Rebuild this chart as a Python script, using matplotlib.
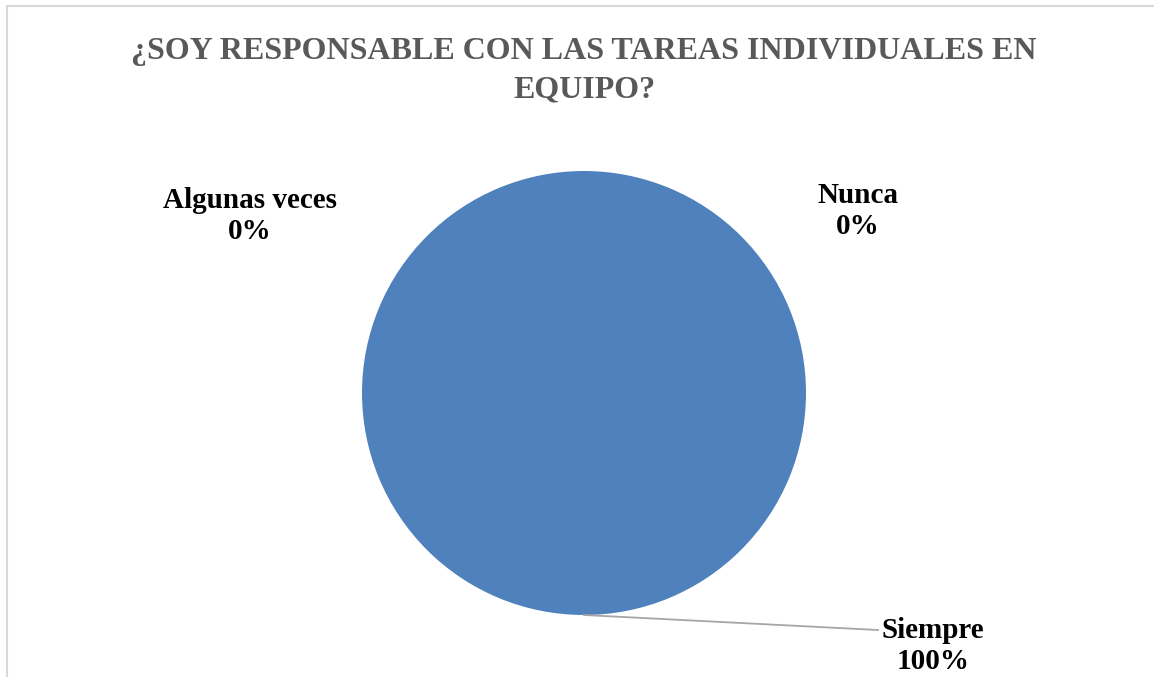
import matplotlib.pyplot as plt
from matplotlib.patches import Rectangle

# survey answers
categories = ["Siempre", "Algunas veces", "Nunca"]
values = [100, 0, 0]
title = "¿SOY RESPONSABLE CON LAS TAREAS INDIVIDUALES EN\nEQUIPO?"

W, H = 1154, 677
fig = plt.figure(figsize=(W / 100, H / 100), dpi=100)
ax = fig.add_axes([0, 0, 1, 1])
ax.set_xlim(0, W)
ax.set_ylim(0, H)
ax.set_aspect("equal")
ax.axis("off")

serif = ["Liberation Serif", "DejaVu Serif"]

# chart frame (cut off on the right and bottom)
ax.add_patch(Rectangle((7, -20), W + 40, H - 6 + 20, fill=False,
                       edgecolor="#D9D9D9", linewidth=1.5))

cx, cy, r = 584, H - 393, 222
total = sum(values)
ax.pie(values, center=(cx, cy), radius=r, startangle=90, counterclock=False,
       colors=["#4F81BD", "#C0504D", "#9BBB59"],
       wedgeprops=dict(linewidth=0), frame=True)
ax.set_xlim(0, W)
ax.set_ylim(0, H)
ax.axis("off")

ax.text(W / 2 + 7, H - 71, title, ha="center", va="center", fontsize=23,
        fontweight="bold", color="#595959", family=serif, linespacing=1.42)

# data labels
label_pos = {"Siempre": (933, H - 646), "Algunas veces": (250, H - 216),
             "Nunca": (858, H - 211)}
for name, v in zip(categories, values):
    x, y = label_pos[name]
    ax.text(x, y, f"{name}\n{round(100 * v / total)}%", ha="center",
            va="center", fontsize=21, fontweight="bold", color="black",
            family=serif, linespacing=1.22)

# leader line for the only visible slice
ax.plot([cx, 878], [cy - r, H - 630], color="#A6A6A6", linewidth=1.3)

fig.savefig("out.png", dpi=100)
